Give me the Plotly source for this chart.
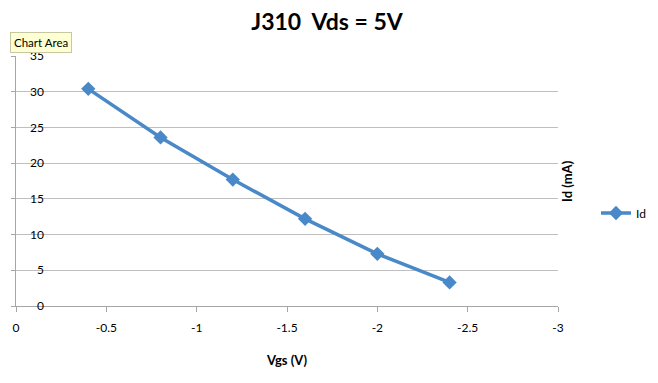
import plotly.graph_objects as go

vgs = [-0.4, -0.8, -1.2, -1.6, -2.0, -2.4]
id_ma = [30.4, 23.6, 17.7, 12.2, 7.3, 3.3]
x_ticks = [0, -0.5, -1, -1.5, -2, -2.5, -3]
x_tick_labels = ["0", "-0.5", "-1", "-1.5", "-2", "-2.5", "-3"]
y_ticks = [0, 5, 10, 15, 20, 25, 30, 35]

W, H = 658, 383
ML, MR, MT, MB = 16, 100, 56, 77
pw = W - ML - MR
ph = H - MT - MB
font = "Lato, Open Sans, sans-serif"
blue = "#4a89c8"

fig = go.Figure()
fig.add_trace(go.Scatter(
    x=vgs, y=id_ma, name="Id", mode="lines+markers",
    line=dict(color=blue, width=3.5),
    marker=dict(symbol="diamond", size=11, color=blue),
))
# invisible copy used only to carry the y tick labels axis
fig.add_trace(go.Scatter(
    x=vgs, y=id_ma, yaxis="y2", mode="lines", opacity=0,
    showlegend=False, hoverinfo="skip",
))

fig.update_layout(
    width=W, height=H,
    margin=dict(l=ML, r=MR, t=MT, b=MB, autoexpand=False),
    paper_bgcolor="white", plot_bgcolor="white",
    font=dict(family=font, size=12, color="black"),
    title=dict(text="<b>J310  Vds = 5V</b>", x=(327) / W, xanchor="center",
               y=1 - 22 / H, yanchor="middle",
               font=dict(family=font, size=23, color="black")),
    xaxis=dict(range=[0, -3], tickvals=x_ticks, ticktext=x_tick_labels,
               showgrid=False, zeroline=False, showline=True,
               linecolor="#a6a6a6", linewidth=1, automargin=False,
               ticks="outside", ticklen=5, tickcolor="#a6a6a6",
               ticklabelstandoff=6,
               tickfont=dict(family=font, size=12),
               title=dict(text="<b>Vgs (V)</b>", standoff=21,
                          font=dict(family=font, size=13))),
    yaxis=dict(range=[0, 35], tickvals=y_ticks, showticklabels=False,
               showgrid=True, gridcolor="#bfbfbf", gridwidth=1, automargin=False,
               zeroline=False, showline=True, linecolor="#a6a6a6",
               ticks="outside", ticklen=4, tickcolor="#a6a6a6"),
    yaxis2=dict(range=[0, 35], tickvals=y_ticks, overlaying="y",
                anchor="free", side="left", position=(44 - ML) / pw,
                automargin=False,
                showgrid=False, zeroline=False, showline=False, ticks="",
                tickfont=dict(family=font, size=12)),
    showlegend=True,
    legend=dict(x=(596 - ML) / pw, y=(306 - 213) / ph, xanchor="left",
                yanchor="middle", bgcolor="rgba(0,0,0,0)",
                font=dict(family=font, size=12)),
)

fig.add_annotation(text="<b>Id (mA)</b>", textangle=-90, xref="paper", yref="paper",
                   x=(567 - ML) / pw, y=0.5, xanchor="center", yanchor="middle",
                   showarrow=False,
                   font=dict(family=font, size=13, color="black"))

fig.add_annotation(text="Chart Area", xref="paper", yref="paper",
                   x=(10 - ML) / pw, y=(306 - 43) / ph, xanchor="left", yanchor="middle",
                   showarrow=False, bgcolor="#ffffd4", bordercolor="#c8c8a0",
                   borderwidth=1, borderpad=3,
                   font=dict(family=font, size=11.5, color="black"))

fig.write_html("out.html", config={"displayModeBar": False},
               post_script="document.body.style.margin='0';")
